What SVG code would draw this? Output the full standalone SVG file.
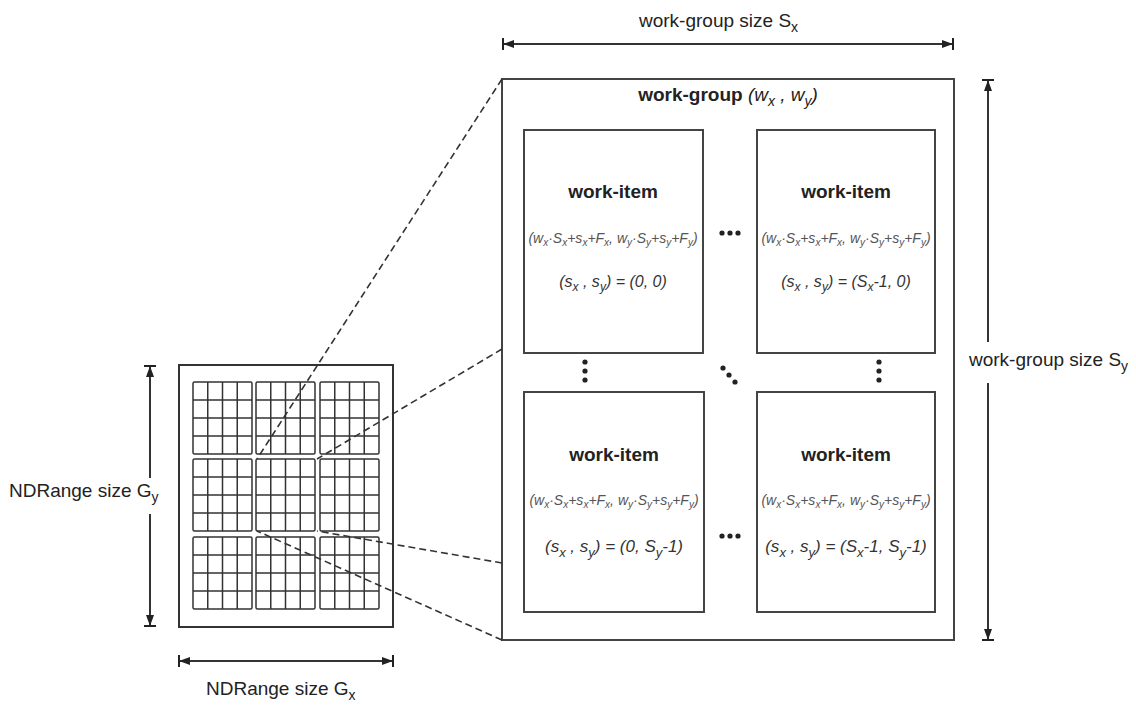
<svg xmlns="http://www.w3.org/2000/svg" xmlns:xlink="http://www.w3.org/1999/xlink" width="1136" height="711" viewBox="0 0 1136 711">
<style>
text{font-family:"Liberation Sans",Arial,sans-serif;fill:#222}
.lbl{font-size:19px}
.sub{font-size:14px}
.box{fill:#fff;stroke:#444;stroke-width:2}
.ln{stroke:#333;stroke-width:2;fill:none}
.dash{stroke:#333;stroke-width:1.6;stroke-dasharray:7 4;fill:none}
.grid{stroke:#333;stroke-width:1.5;fill:none}
.title{font-size:19px;font-weight:bold}
.frm{font-size:14px;font-style:italic;fill:#555}
.fs{font-size:10px}
.crd{font-style:italic;fill:#333}
.dot{fill:#222}
</style>
<defs>
<marker id="ah" viewBox="0 0 12 12" refX="11" refY="6" markerWidth="12" markerHeight="12" markerUnits="userSpaceOnUse" orient="auto-start-reverse">
<path d="M0 2L11 6L0 10Z" fill="#222"/><path d="M11 0V12" stroke="#222" stroke-width="2"/>
</marker>
<g id="block">
<rect class="grid" x="0" y="0" width="59" height="72" rx="1.5" stroke-width="2"/>
<path class="grid" d="M14.75 0V72M29.5 0V72M44.25 0V72M0 18H59M0 36H59M0 54H59"/>
</g>
</defs>

<g id="ndrange">
<rect x="179" y="365" width="214" height="262" fill="#fff" stroke="#333" stroke-width="2"/>
<use xlink:href="#block" x="193" y="382"/>
<use xlink:href="#block" x="256" y="382"/>
<use xlink:href="#block" x="320" y="382"/>
<use xlink:href="#block" x="193" y="459"/>
<use xlink:href="#block" x="256" y="459"/>
<use xlink:href="#block" x="320" y="459"/>
<use xlink:href="#block" x="193" y="537"/>
<use xlink:href="#block" x="256" y="537"/>
<use xlink:href="#block" x="320" y="537"/>
</g>

<g id="workgroup">
<rect class="box" x="502" y="79" width="452" height="561"/>
<text x="728" y="101" text-anchor="middle" class="title">work-group <tspan font-weight="normal" font-style="italic">(w<tspan class="sub" dy="5">x</tspan><tspan dy="-5"> , w</tspan><tspan class="sub" dy="5">y</tspan><tspan dy="-5">)</tspan></tspan></text>
</g>

<g id="item00">
<rect class="box" x="524" y="130" width="179" height="223"/>
<text x="613" y="198" text-anchor="middle" class="title">work-item</text>
<text x="613" y="243" text-anchor="middle" class="frm">(w<tspan dy="3" class="fs">x</tspan><tspan dy="-3">·S</tspan><tspan dy="3" class="fs">x</tspan><tspan dy="-3">+s</tspan><tspan dy="3" class="fs">x</tspan><tspan dy="-3">+F</tspan><tspan dy="3" class="fs">x</tspan><tspan dy="-3">, w</tspan><tspan dy="3" class="fs">y</tspan><tspan dy="-3">·S</tspan><tspan dy="3" class="fs">y</tspan><tspan dy="-3">+s</tspan><tspan dy="3" class="fs">y</tspan><tspan dy="-3">+F</tspan><tspan dy="3" class="fs">y</tspan><tspan dy="-3">)</tspan></text>
<text x="613" y="287" text-anchor="middle" class="crd" font-size="16">(s<tspan dy="4" font-size="12">x</tspan><tspan dy="-4"> , s</tspan><tspan dy="4" font-size="12">y</tspan><tspan dy="-4">) = (0, 0)</tspan></text>
</g>

<g id="item10">
<rect class="box" x="757" y="130" width="178" height="223"/>
<text x="846" y="198" text-anchor="middle" class="title">work-item</text>
<text x="846" y="243" text-anchor="middle" class="frm">(w<tspan dy="3" class="fs">x</tspan><tspan dy="-3">·S</tspan><tspan dy="3" class="fs">x</tspan><tspan dy="-3">+s</tspan><tspan dy="3" class="fs">x</tspan><tspan dy="-3">+F</tspan><tspan dy="3" class="fs">x</tspan><tspan dy="-3">, w</tspan><tspan dy="3" class="fs">y</tspan><tspan dy="-3">·S</tspan><tspan dy="3" class="fs">y</tspan><tspan dy="-3">+s</tspan><tspan dy="3" class="fs">y</tspan><tspan dy="-3">+F</tspan><tspan dy="3" class="fs">y</tspan><tspan dy="-3">)</tspan></text>
<text x="846" y="287" text-anchor="middle" class="crd" font-size="16">(s<tspan dy="4" font-size="12">x</tspan><tspan dy="-4"> , s</tspan><tspan dy="4" font-size="12">y</tspan><tspan dy="-4">) = (S</tspan><tspan dy="4" font-size="12">x</tspan><tspan dy="-4">-1, 0)</tspan></text>
</g>

<g id="item01">
<rect class="box" x="524" y="392" width="180" height="220"/>
<text x="614" y="461" text-anchor="middle" class="title">work-item</text>
<text x="614" y="505" text-anchor="middle" class="frm">(w<tspan dy="3" class="fs">x</tspan><tspan dy="-3">·S</tspan><tspan dy="3" class="fs">x</tspan><tspan dy="-3">+s</tspan><tspan dy="3" class="fs">x</tspan><tspan dy="-3">+F</tspan><tspan dy="3" class="fs">x</tspan><tspan dy="-3">, w</tspan><tspan dy="3" class="fs">y</tspan><tspan dy="-3">·S</tspan><tspan dy="3" class="fs">y</tspan><tspan dy="-3">+s</tspan><tspan dy="3" class="fs">y</tspan><tspan dy="-3">+F</tspan><tspan dy="3" class="fs">y</tspan><tspan dy="-3">)</tspan></text>
<text x="614" y="552" text-anchor="middle" class="crd" font-size="17">(s<tspan dy="5" font-size="13">x</tspan><tspan dy="-5"> , s</tspan><tspan dy="5" font-size="13">y</tspan><tspan dy="-5">) = (0, S</tspan><tspan dy="5" font-size="13">y</tspan><tspan dy="-5">-1)</tspan></text>
</g>

<g id="item11">
<rect class="box" x="757" y="392" width="178" height="220"/>
<text x="846" y="461" text-anchor="middle" class="title">work-item</text>
<text x="846" y="505" text-anchor="middle" class="frm">(w<tspan dy="3" class="fs">x</tspan><tspan dy="-3">·S</tspan><tspan dy="3" class="fs">x</tspan><tspan dy="-3">+s</tspan><tspan dy="3" class="fs">x</tspan><tspan dy="-3">+F</tspan><tspan dy="3" class="fs">x</tspan><tspan dy="-3">, w</tspan><tspan dy="3" class="fs">y</tspan><tspan dy="-3">·S</tspan><tspan dy="3" class="fs">y</tspan><tspan dy="-3">+s</tspan><tspan dy="3" class="fs">y</tspan><tspan dy="-3">+F</tspan><tspan dy="3" class="fs">y</tspan><tspan dy="-3">)</tspan></text>
<text x="846" y="552" text-anchor="middle" class="crd" font-size="17">(s<tspan dy="5" font-size="13">x</tspan><tspan dy="-5"> , s</tspan><tspan dy="5" font-size="13">y</tspan><tspan dy="-5">) = (S</tspan><tspan dy="5" font-size="13">x</tspan><tspan dy="-5">-1, S</tspan><tspan dy="5" font-size="13">y</tspan><tspan dy="-5">-1)</tspan></text>
</g>

<g id="ellipses">
<circle class="dot" cx="722" cy="233" r="2.6"/><circle class="dot" cx="730" cy="233" r="2.6"/><circle class="dot" cx="738" cy="233" r="2.6"/>
<circle class="dot" cx="722" cy="536" r="2.6"/><circle class="dot" cx="730" cy="536" r="2.6"/><circle class="dot" cx="738" cy="536" r="2.6"/>
<circle class="dot" cx="585" cy="362" r="2.6"/><circle class="dot" cx="585" cy="371" r="2.6"/><circle class="dot" cx="585" cy="380" r="2.6"/>
<circle class="dot" cx="879" cy="362" r="2.6"/><circle class="dot" cx="879" cy="371" r="2.6"/><circle class="dot" cx="879" cy="380" r="2.6"/>
<circle class="dot" cx="723" cy="368" r="2.6"/><circle class="dot" cx="729" cy="375" r="2.6"/><circle class="dot" cx="735" cy="382" r="2.6"/>
</g>

<g id="connectors">
<path class="dash" d="M502 79L257 459"/>
<path class="dash" d="M502 349L317 459"/>
<path class="dash" d="M502 640L257 531"/>
<path class="dash" d="M502 563L317 531"/>
<path class="ln" d="M503 44H953" marker-start="url(#ah)" marker-end="url(#ah)"/>
<path class="ln" d="M988 80V342" marker-start="url(#ah)"/>
<path class="ln" d="M988 383V640" marker-end="url(#ah)"/>
<path class="ln" d="M150 366V478" marker-start="url(#ah)"/>
<path class="ln" d="M150 514V626" marker-end="url(#ah)"/>
<path class="ln" d="M179 661H393" marker-start="url(#ah)" marker-end="url(#ah)"/>
</g>

<g id="labels">
<text class="lbl" x="639" y="27">work-group size S<tspan class="sub" dy="5">x</tspan></text>
<text class="lbl" x="969" y="366">work-group size S<tspan class="sub" dy="5">y</tspan></text>
<text class="lbl" x="9" y="497">NDRange size G<tspan class="sub" dy="5">y</tspan></text>
<text class="lbl" x="206" y="695">NDRange size G<tspan class="sub" dy="5">x</tspan></text>
</g>
</svg>
